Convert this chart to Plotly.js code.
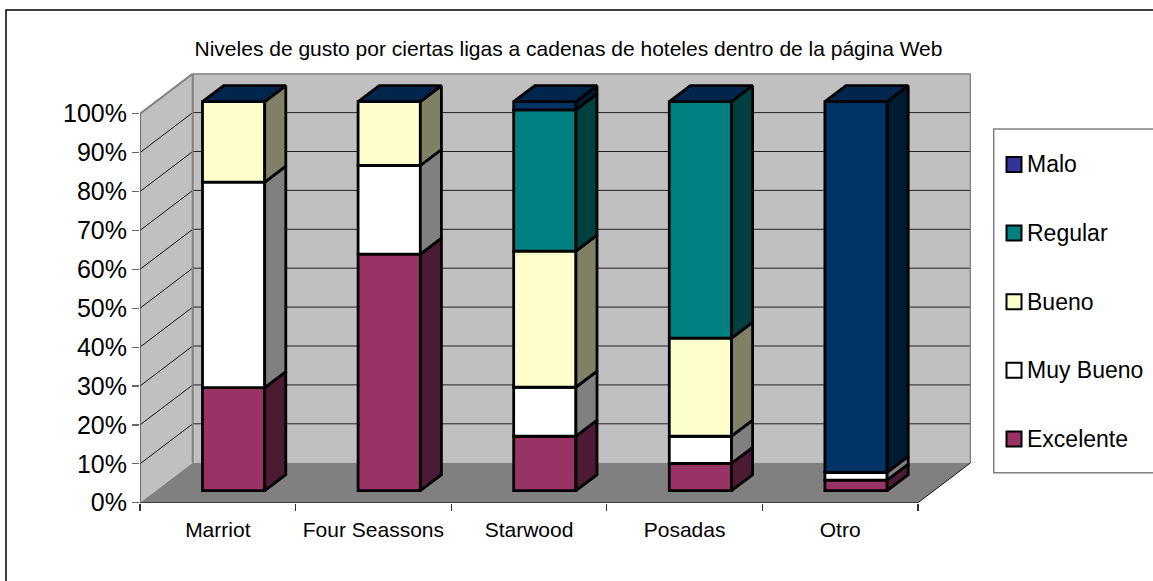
<!DOCTYPE html>
<html>
<head>
<meta charset="utf-8">
<script src="https://cdn.plot.ly/plotly-3.0.1.min.js"></script>
<style>html,body{margin:0;padding:0;background:#fff}#chart{width:1153px;height:581px}</style>
</head>
<body>
<div id="chart"></div>
<script>
var categories = ['Marriot', 'Four Seassons', 'Starwood', 'Posadas', 'Otro'];
var excelente = [26.5, 60.8, 14, 7, 2.7];
var muyBueno  = [52.8, 22.8, 12.6, 7, 2];
var bueno     = [20.7, 16.4, 35, 25.2, 0];
var regular   = [0, 0, 36.3, 60.8, 0];
var malo      = [0, 0, 2.1, 0, 95.3];
var seriesNames  = ['Excelente', 'Muy Bueno', 'Bueno', 'Regular', 'Malo'];
var seriesValues = [excelente, muyBueno, bueno, regular, malo];
var frontColors  = ['#993366', '#FFFFFF', '#FFFFCC', '#008080', '#003366'];
var sideColors   = ['#4D1A33', '#808080', '#808066', '#004040', '#001A33'];
var legendColors = ['#993366', '#FFFFFF', '#FFFFCC', '#008080', '#333399'];
var yTicks = [0, 10, 20, 30, 40, 50, 60, 70, 80, 90, 100];

var W = 1153, H = 581;
var plotL = 140, plotR = 971, plotT = 73.3, plotB = 502.7;
var catPx = 155.6, pctPx = 3.89;
var depthX = 52.7 / catPx, depthY = 40 / pctPx;   // depth of the floor in data units
var barWidth = 0.4, dNear = 0.3, dFar = 0.7;

function px(c, d) { return c + d * depthX; }
function py(v, d) { return v + d * depthY; }
function pathOf(pts) {
  return 'M' + pts.map(function (p) { return p[0] + ',' + p[1]; }).join('L') + 'Z';
}
function poly(pts, fill) {
  return {type: 'path', layer: 'below', xref: 'x', yref: 'y', path: pathOf(pts),
          fillcolor: fill, line: {width: 0}};
}
function seg(x0, y0, x1, y1, color, width) {
  return {type: 'line', layer: 'below', xref: 'x', yref: 'y', x0: x0, y0: y0, x1: x1, y1: y1,
          line: {color: color, width: width}};
}

var n = categories.length;
var shapes = [];
// outer chart frame, runs off the picture on the right and at the bottom
shapes.push({type: 'rect', xref: 'paper', yref: 'paper', x0: 6 / W, x1: 1.02, y0: -0.02, y1: 1 - 10 / H,
             line: {color: '#000', width: 1.5}, fillcolor: 'rgba(0,0,0,0)', layer: 'below'});
// walls and floor
shapes.push(poly([[px(0, 1), py(0, 1)], [px(n, 1), py(0, 1)], [px(n, 1), py(100, 1)], [px(0, 1), py(100, 1)]], '#C0C0C0'));
shapes.push(poly([[px(0, 0), py(0, 0)], [px(0, 1), py(0, 1)], [px(0, 1), py(100, 1)], [px(0, 0), py(100, 0)]], '#C0C0C0'));
shapes.push(poly([[px(0, 0), py(0, 0)], [px(n, 0), py(0, 0)], [px(n, 1), py(0, 1)], [px(0, 1), py(0, 1)]], '#808080'));
// gridlines
yTicks.forEach(function (v) {
  if (v === 0 || v === 100) return;
  shapes.push(seg(px(0, 0), py(v, 0), px(0, 1), py(v, 1), '#111', 1));
  shapes.push(seg(px(0, 1), py(v, 1), px(n, 1), py(v, 1), '#222', 1));
});
// wall edges
shapes.push(seg(px(0, 0), py(100, 0), px(0, 1), py(100, 1), '#808080', 2));
shapes.push(seg(px(0, 1), py(100, 1), px(n, 1), py(100, 1), '#808080', 2));
shapes.push(seg(px(n, 1), py(100, 1), px(n, 1), py(0, 1), '#808080', 2));
shapes.push(seg(px(0, 1), py(100, 1), px(0, 1), py(0, 1), '#808080', 2));
shapes.push(seg(px(n, 0), py(0, 0), px(n, 1), py(0, 1), '#111', 1));
// axes
shapes.push(seg(px(0, 0), py(0, 0), px(0, 0), py(100, 0), '#555', 1.5));
shapes.push(seg(px(0, 0), py(0, 0), px(n, 0), py(0, 0), '#111', 1.5));

var traces = [];
var centers = categories.map(function (c, i) { return i + 0.5; });
var cum = categories.map(function () { return 0; });
var sideTraces = [];
var edge = 2.8;
seriesValues.forEach(function (vals, s) {
  traces.push({
    type: 'bar', name: seriesNames[s], showlegend: false, hoverinfo: 'skip',
    x: centers.map(function (c) { return px(c, dNear); }),
    y: vals,
    base: cum.map(function (b) { return py(b, dNear); }),
    width: barWidth,
    marker: {color: frontColors[s], line: {color: '#000', width: edge}}
  });
  vals.forEach(function (v, i) {
    if (v <= 0) return;
    var x1 = centers[i] + barWidth / 2, b = cum[i], t = b + v;
    sideTraces.push({
      type: 'scatter', mode: 'lines', fill: 'toself', fillcolor: sideColors[s],
      showlegend: false, hoverinfo: 'skip', line: {color: '#000', width: edge},
      x: [px(x1, dNear), px(x1, dFar), px(x1, dFar), px(x1, dNear), px(x1, dNear)],
      y: [py(b, dNear), py(b, dFar), py(t, dFar), py(t, dNear), py(b, dNear)]
    });
  });
  cum = cum.map(function (b, i) { return b + vals[i]; });
});
categories.forEach(function (c, i) {
  var x0 = centers[i] - barWidth / 2, x1 = centers[i] + barWidth / 2, t = cum[i];
  sideTraces.push({
    type: 'scatter', mode: 'lines', fill: 'toself', fillcolor: '#00264D',
    showlegend: false, hoverinfo: 'skip', line: {color: '#000', width: edge},
    x: [px(x0, dNear), px(x0, dFar), px(x1, dFar), px(x1, dNear), px(x0, dNear)],
    y: [py(t, dNear), py(t, dFar), py(t, dFar), py(t, dNear), py(t, dNear)]
  });
});
traces = traces.concat(sideTraces);
// invisible carrier for the boundary ticks on the second x axis
traces.push({type: 'scatter', mode: 'markers', xaxis: 'x2', yaxis: 'y', x: [0], y: [0],
             marker: {opacity: 0}, showlegend: false, hoverinfo: 'skip'});

// legend, drawn by hand so it can run off the picture like the original
var legL = 993.7, legT = 129, legB = 472.7;
shapes.push({type: 'rect', xref: 'paper', yref: 'paper', x0: legL / W, x1: 1.02, y0: 1 - legB / H, y1: 1 - legT / H,
             fillcolor: '#fff', line: {color: '#808080', width: 1.5}, layer: 'below'});
var annotations = [];
var legendOrder = [4, 3, 2, 1, 0];
legendOrder.forEach(function (s, k) {
  var cy = 164.5 + k * 68.6;
  shapes.push({type: 'rect', xref: 'paper', yref: 'paper', x0: 1006.5 / W, x1: 1021.5 / W,
               y0: 1 - (cy + 7.5) / H, y1: 1 - (cy - 7.5) / H,
               fillcolor: legendColors[s], line: {color: '#000', width: 2}, layer: 'above'});
  annotations.push({xref: 'paper', yref: 'paper', x: 1027 / W, y: 1 - cy / H, xanchor: 'left', yanchor: 'middle',
                    xshift: -2, text: seriesNames[s], showarrow: false, font: {size: 23, color: '#000'}});
});

var layout = {
  width: W, height: H, paper_bgcolor: '#fff', plot_bgcolor: 'rgba(0,0,0,0)',
  margin: {l: 0, r: 0, t: 0, b: 0},
  font: {family: '"Liberation Sans", Arial, sans-serif', color: '#000'},
  title: {text: 'Niveles de gusto por ciertas ligas a cadenas de hoteles dentro de la página Web',
          font: {size: 21, color: '#000'}, x: 568.5 / W, xanchor: 'center', y: 1 - 49 / H, yanchor: 'middle'},
  barmode: 'overlay', bargap: 0, showlegend: false,
  xaxis: {domain: [plotL / W, plotR / W], range: [0, (plotR - plotL) / catPx], showgrid: false, zeroline: false,
          showline: false, tickvals: centers, ticktext: categories, ticks: '', ticklen: 0,
          tickfont: {size: 21, color: '#000'}, ticklabelstandoff: 12, automargin: false},
  xaxis2: {overlaying: 'x', domain: [plotL / W, plotR / W], range: [0, (plotR - plotL) / catPx], anchor: 'y', side: 'bottom',
           showgrid: false, zeroline: false, showline: false,
           tickvals: categories.map(function (c, i) { return i; }).concat([n]), ticktext: ['', '', '', '', '', ''],
           ticks: 'outside', ticklen: 7, tickcolor: '#333', tickwidth: 1.2},
  yaxis: {domain: [1 - plotB / H, 1 - plotT / H], range: [0, (plotB - plotT) / pctPx], showgrid: false, zeroline: false,
          showline: false, tickvals: yTicks, ticktext: yTicks.map(function (v) { return v + '%'; }),
          ticks: 'outside', ticklen: 7, tickcolor: '#666', tickwidth: 1.2,
          tickfont: {size: 25, color: '#000'}},
  shapes: shapes, annotations: annotations
};
Plotly.newPlot('chart', traces, layout, {displayModeBar: false, staticPlot: true});
</script>
</body>
</html>
